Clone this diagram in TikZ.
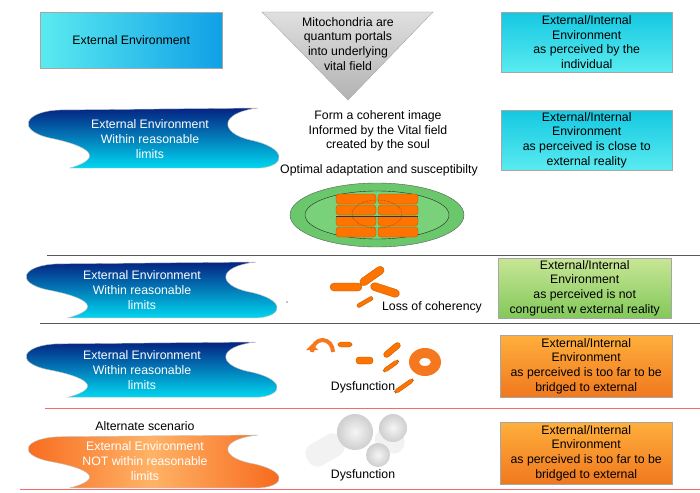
\documentclass[tikz,border=0pt]{standalone}
\usepackage{fontspec}
\setmainfont{Liberation Sans}
\begin{document}
\begin{tikzpicture}[x=1pt,y=-1pt,
  txt/.style={font=\fontsize{12.3}{14.8}\selectfont,align=center,inner sep=0},
  wtxt/.style={txt,text=white},
  cbox/.style={draw=gray!70,top color=cyanA,bottom color=cyanB},
  gbox/.style={draw=gray!70,top color=greenA,bottom color=greenB},
  obox/.style={draw=gray!70,top color=orA,bottom color=orB},
  bwave/.style={draw=gray!50,top color=waveA,bottom color=waveB},
  rod/.style={fill=orange!90!red,draw=orange!70!black,line width=0.3pt,rounded corners=3pt},
  sphere/.style={inner color=gray!8,outer color=gray!38},
  sep/.style={line width=1pt}]
\definecolor{cyanA}{RGB}{20,200,225}\definecolor{cyanB}{RGB}{90,235,240}
\definecolor{greenA}{RGB}{200,230,150}\definecolor{greenB}{RGB}{130,200,90}
\definecolor{orA}{RGB}{255,175,60}\definecolor{orB}{RGB}{240,120,30}
\definecolor{waveA}{RGB}{5,35,130}\definecolor{waveB}{RGB}{0,215,240}
\definecolor{orng}{RGB}{245,120,30}
\newcommand\wavepath{(40,2) -- (238,0) .. controls (198,5) and (200,25) .. (230,32) .. controls (268,40) and (266,58) .. (240,60) -- (50,60) .. controls (85,50) and (70,38) .. (30,30) .. controls (-5,22) and (5,3) .. (40,2) -- cycle}
\useasboundingbox (0,0) rectangle (700,492);
% separators
\draw[sep,gray!70!black] (47,255) -- (700,255);
\draw[sep,gray!70!black] (40,323) -- (700,323);
\draw[sep,red!60] (45,408) -- (700,408);
\draw[sep,red!60] (20,489) -- (700,489);
% top row
\node[draw=gray!70,left color=cyanB,right color=cyanA!80!blue,minimum width=182,minimum height=56,anchor=north west,txt] (env) at (40,12) {External Environment};
\path[draw=gray!70,top color=gray!25,bottom color=gray!60] (262,12) -- (433,12) -- (348,100) -- cycle;
\node[txt,anchor=north] (mito) at (348,17) {Mitochondria are\\quantum portals\\into underlying\\vital field};
\node[cbox,minimum width=171,minimum height=60,anchor=north west,txt] (r1) at (501,12) {External/Internal\\Environment\\as perceived by the\\individual};
% row 2
\begin{scope}[shift={(20,108)}]\path[bwave] \wavepath;\end{scope}
\node[wtxt] (w2) at (150,139) {External Environment\\Within reasonable\\limits};
\node[txt] (form) at (378,131) {Form a coherent image\\Informed by the Vital field\\created by the soul};
\node[txt] (opt) at (379,170) {Optimal adaptation and susceptibilty};
\node[cbox,minimum width=171,minimum height=60,anchor=north west,txt] (r2) at (501,110) {External/Internal\\Environment\\as perceived is close to\\external reality};
\draw[fill=green!45!gray!80!white,draw=gray!70!black] (377,215) ellipse (87 and 32);
\draw[draw=gray!30!black,fill=green!50!gray!70!white] (377,215) ellipse (72 and 24);
\foreach \yy in {199,210,221,232}{
  \path[rod] (336,\yy-5) rectangle (376,\yy+5);
  \path[rod] (378,\yy-5) rectangle (418,\yy+5);}
\draw[densely dotted,gray!40!black] (377,214) ellipse (25 and 14);
\draw[gray!40!black] (336,216) -- (418,216);
% row 3
\begin{scope}[shift={(18,262)},yscale=0.93]\path[bwave] \wavepath;\end{scope}
\node[wtxt] (w3) at (142,290) {External Environment\\Within reasonable\\limits};
\node[gbox,minimum width=173,minimum height=60,anchor=north west,txt] (r3) at (498,258) {External/Internal\\Environment\\as perceived is not\\congruent w external reality};
\fill (287,302) circle (0.6);
\path[rod,rounded corners=4pt] (330,283) rectangle (362,291);
\path[rod,rounded corners=4pt,rotate around={35:(372,276)}] (358,272) rectangle (386,280);
\path[rod,rounded corners=4pt,rotate around={-18:(385,290)}] (370,286) rectangle (400,294);
\path[rod,rounded corners=2pt,rotate around={30:(365,302)}] (356,300) rectangle (374,304);
\node[txt] (loss) at (432,307) {Loss of coherency};
% row 4
\begin{scope}[shift={(18,342)},yscale=0.92]\path[bwave] \wavepath;\end{scope}
\node[wtxt] (w4) at (142,370) {External Environment\\Within reasonable\\limits};
\node[obox,minimum width=172,minimum height=62,anchor=north west,txt] (r4) at (500,335) {External/Internal\\Environment\\as perceived is too far to be\\bridged to external};
\draw[orng,line width=4pt] (312,352) arc (180:360:10.5 and 12);
\fill[orng] (306,350) -- (318,350) -- (312,344) -- cycle;
\path[rod] (338,342) rectangle (352,347);
\path[rod] (356,357) rectangle (373,364);
\path[rod,rotate around={40:(392,350)}] (382,347) rectangle (402,353);
\path[rod,rotate around={35:(391,366)}] (382,364) rectangle (400,368);
\path[rod,rotate around={35:(404,386)}] (393,384) rectangle (415,388);
\fill[orng,even odd rule] (425,362) ellipse (16 and 14) (425,362) ellipse (6 and 4);
\node[txt] (dys1) at (363,387) {Dysfunction};
% row 5
\node[txt] (alt) at (145,426) {Alternate scenario};
\begin{scope}[shift={(20,435)},yscale=0.88]\path[draw=gray!50,left color=orng!85!red,right color=orng!85!red,middle color=orange!60!white] \wavepath;\end{scope}
\node[wtxt] (w5) at (145,461) {External Environment\\NOT within reasonable\\limits};
\node[obox,minimum width=172,minimum height=62,anchor=north west,txt] (r5) at (500,422) {External/Internal\\Environment\\as perceived is too far to be\\bridged to external};
\path[fill=gray!10,rounded corners=10pt,rotate around={30:(325,450)}] (305,438) rectangle (345,462);
\path[fill=gray!10,rounded corners=10pt,rotate around={-20:(390,440)}] (375,430) rectangle (405,452);
\shade[sphere] (355,432) circle (18);
\shade[sphere] (393,428) circle (14);
\shade[sphere] (378,455) circle (12);
\node[txt] (dys2) at (363,475) {Dysfunction};
\end{tikzpicture}
\end{document}
